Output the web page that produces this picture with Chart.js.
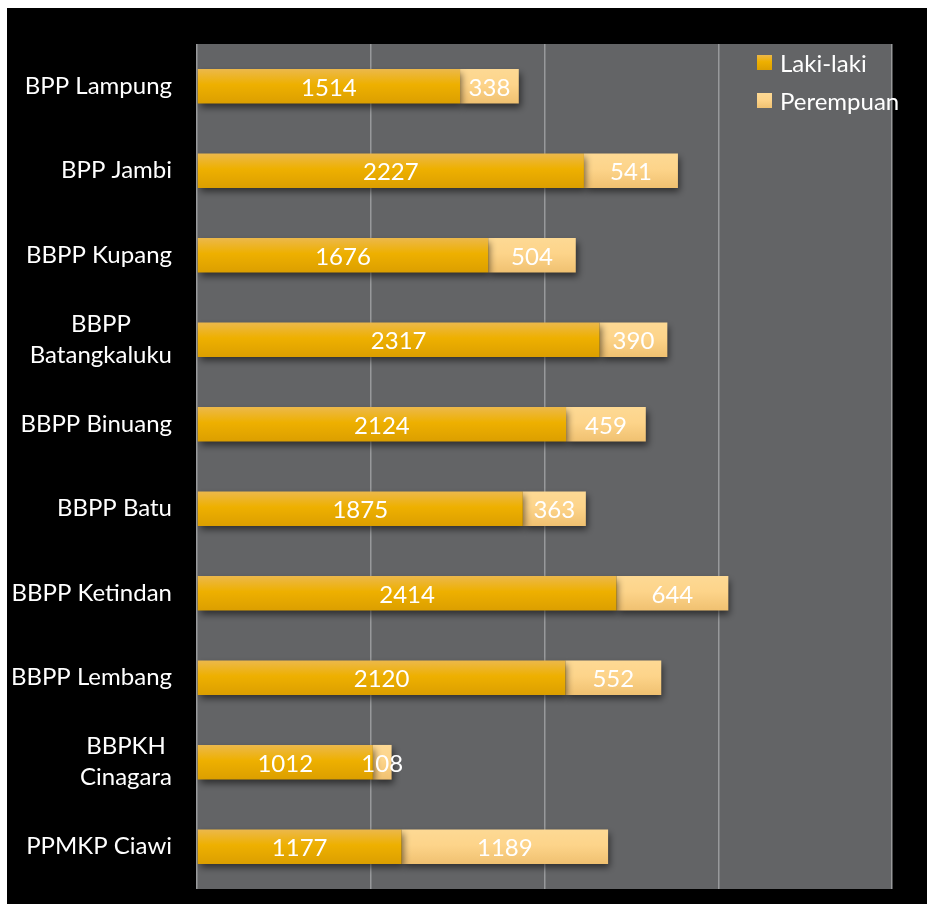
<!DOCTYPE html>
<html>
<head>
<meta charset="utf-8">
<script src="https://cdn.jsdelivr.net/npm/chart.js@4/dist/chart.umd.min.js"></script>
<style>
	body { margin: 0; background: #fff; }
	#wrap { position: absolute; left: 7px; top: 8px; width: 920px; height: 896px; background: #000; }
	#legend { position: absolute; left: 750px; top: 35px; font-family: Lato, sans-serif; font-size: 24px; color: #fff; }
</style>
</head>
<body>
<div id="wrap">
	<canvas id="chart" width="920" height="896"></canvas>
	<div id="legend"></div>
</div>
<script>
const categories = [
	"BPP Lampung",
	"BPP Jambi",
	"BBPP Kupang",
	["BBPP", "Batangkaluku"],
	"BBPP Binuang",
	"BBPP Batu",
	"BBPP Ketindan",
	"BBPP Lembang",
	["BBPKH", "Cinagara"],
	"PPMKP Ciawi",
];
const seriesNames = ["Laki-laki", "Perempuan"];
const lakiLaki = [1514, 2227, 1676, 2317, 2124, 1875, 2414, 2120, 1012, 1177];
const perempuan = [338, 541, 504, 390, 459, 363, 644, 552, 108, 1189];
const xTicks = [0, 1000, 2000, 3000, 4000];

const lakiStops = ["#ecb84a", "#eeb000", "#dc9f00"];
const perempuanStops = ["#fdd994", "#fdd48a", "#f0c171"];

function barGradient(stops) {
	return function (context) {
		const chart = context.chart;
		const yScale = chart.scales.y;
		if (context.type !== "data" || !yScale) return stops[1];
		const yc = yScale.getPixelForValue(context.dataIndex);
		if (!isFinite(yc)) return stops[1];
		const g = chart.ctx.createLinearGradient(0, yc - 17, 0, yc + 17);
		g.addColorStop(0, stops[0]);
		g.addColorStop(0.45, stops[1]);
		g.addColorStop(1, stops[2]);
		return g;
	};
}

// fond gris de la zone de tracé
const plotBackground = {
	id: "plotBackground",
	beforeDraw(chart) {
		const a = chart.chartArea;
		chart.ctx.save();
		chart.ctx.fillStyle = "#636466";
		chart.ctx.fillRect(a.left, a.top, a.right - a.left, a.bottom - a.top);
		chart.ctx.restore();
	},
};

// ombre sous les barres + valeurs au centre de chaque segment
const barDecor = {
	id: "barDecor",
	beforeDatasetsDraw(chart) {
		const ctx = chart.ctx;
		ctx.save();
		ctx.shadowColor = "rgba(0,0,0,0.55)";
		ctx.shadowBlur = 7;
		ctx.shadowOffsetX = 2;
		ctx.shadowOffsetY = 4;
	},
	afterDatasetsDraw(chart) {
		const ctx = chart.ctx;
		ctx.restore();
		ctx.save();
		ctx.font = "24px Lato, sans-serif";
		ctx.fillStyle = "#ffffff";
		ctx.textAlign = "center";
		ctx.textBaseline = "middle";
		chart.data.datasets.forEach(function (ds, i) {
			chart.getDatasetMeta(i).data.forEach(function (bar, j) {
				ctx.fillText(String(ds.data[j]), (bar.base + bar.x) / 2, bar.y + 2);
			});
		});
		ctx.restore();
	},
};

// libellés de l'axe Y : bloc aligné à droite, lignes centrées
const categoryLabels = {
	id: "categoryLabels",
	afterDraw(chart) {
		const ctx = chart.ctx;
		const yScale = chart.scales.y;
		const rightEdge = chart.chartArea.left - 25;
		ctx.save();
		ctx.font = "24px Lato, sans-serif";
		ctx.fillStyle = "#ffffff";
		ctx.textAlign = "center";
		ctx.textBaseline = "middle";
		categories.forEach(function (label, i) {
			const lines = Array.isArray(label) ? label : [label];
			const w = Math.max.apply(null, lines.map(function (l) { return ctx.measureText(l).width; }));
			const cx = rightEdge - w / 2;
			const yc = yScale.getPixelForValue(i);
			const lh = 31;
			lines.forEach(function (l, k) {
				ctx.fillText(l, cx, yc + (k - (lines.length - 1) / 2) * lh);
			});
		});
		ctx.restore();
	},
};

const ctx = document.getElementById("chart").getContext("2d");
const chart = new Chart(ctx, {
	type: "bar",
	data: {
		labels: categories,
		datasets: [
			{
				label: seriesNames[0],
				data: lakiLaki,
				backgroundColor: barGradient(lakiStops),
				borderWidth: 0,
				barPercentage: 0.41,
				categoryPercentage: 1,
			},
			{
				label: seriesNames[1],
				data: perempuan,
				backgroundColor: barGradient(perempuanStops),
				borderWidth: 0,
				barPercentage: 0.41,
				categoryPercentage: 1,
			},
		],
	},
	options: {
		indexAxis: "y",
		responsive: false,
		animation: false,
		layout: {
			padding: { top: 36, right: 35, bottom: 15, left: 0 },
		},
		scales: {
			x: {
				stacked: true,
				min: xTicks[0],
				max: xTicks[xTicks.length - 1],
				afterBuildTicks: function (scale) {
					scale.ticks = xTicks.map(function (v) { return { value: v }; });
				},
				ticks: { display: false },
				grid: { color: "#98999b", lineWidth: 1.5, drawTicks: false },
				border: { display: false },
				afterFit: function (scale) { scale.height = 0; },
			},
			y: {
				stacked: true,
				ticks: { display: false },
				grid: { display: false, drawTicks: false },
				border: { display: false },
				afterFit: function (scale) { scale.width = 190; },
			},
		},
		plugins: {
			legend: { display: false },
			tooltip: { enabled: false },
		},
	},
	plugins: [plotBackground, barDecor, categoryLabels],
});

// légende manuelle
const legendColors = [lakiStops, perempuanStops];
let legendHtml = "";
seriesNames.forEach(function (name, i) {
	const s = legendColors[i];
	legendHtml +=
		'<div style="display:flex;align-items:center;height:38px;">' +
		'<span style="display:inline-block;width:15px;height:15px;margin-right:8px;background:linear-gradient(' +
		s[0] + "," + s[1] + " 45%," + s[2] + ');"></span>' +
		"<span>" + name + "</span>" +
		"</div>";
});
document.getElementById("legend").innerHTML = legendHtml;
</script>
</body>
</html>
